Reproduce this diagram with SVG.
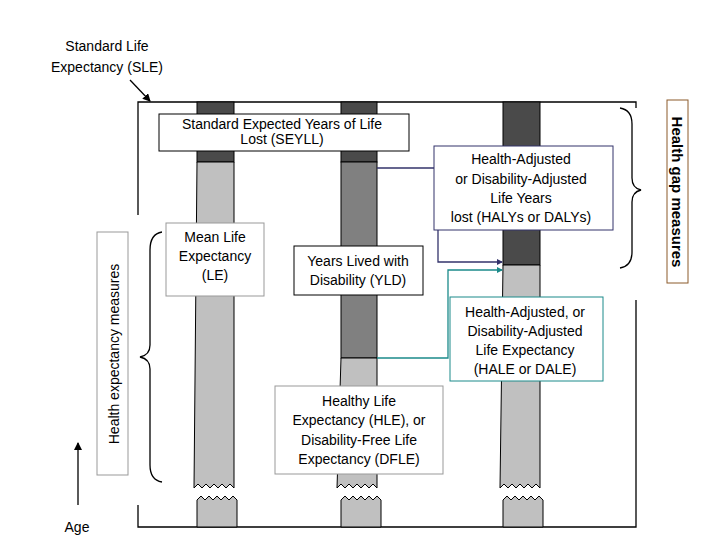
<svg xmlns="http://www.w3.org/2000/svg" width="720" height="540" viewBox="0 0 720 540">
<style>
text{font-family:"Liberation Sans",Arial,sans-serif;font-size:14px;fill:#000}
.c{text-anchor:middle}
.dk{fill:#4a4a4a;stroke:#000;stroke-width:1}
.lt{fill:#c0c0c0;stroke:#000;stroke-width:1}
.md{fill:#808080;stroke:#000;stroke-width:1}
.box{fill:#fff;stroke:#000;stroke-width:1}
.ln{fill:none;stroke:#000;stroke-width:1.3}
</style>
<defs>
<marker id="ah" markerWidth="8" markerHeight="8" refX="7" refY="4" orient="auto" markerUnits="userSpaceOnUse"><path d="M0,0L8,4L0,8z" fill="#000"/></marker>
<marker id="an" markerWidth="6" markerHeight="6" refX="5" refY="3" orient="auto" markerUnits="userSpaceOnUse"><path d="M0,0L6,3L0,6z" fill="#33336b"/></marker>
<marker id="at" markerWidth="6" markerHeight="6" refX="5" refY="3" orient="auto" markerUnits="userSpaceOnUse"><path d="M0,0L6,3L0,6z" fill="#1b8a8a"/></marker>
</defs>
<g id="frame">
<path class="ln" d="M138,215V102H636V108M636,300V527H138V505"/>
</g>
<g id="bar1">
<rect class="dk" x="197" y="102" width="37" height="60"/>
<path class="lt" d="M197,162H234V488l-4,-4-4,4-4,-4-4,4-4,-4-4,4-4,-4-4,4-4,-4-4,4z"/>
<path class="lt" d="M197,527V500l4,-4 4,4 4,-4 4,4 4,-4 4,4 4,-4 4,4 4,-4 4,4V527z"/>
</g>
<g id="bar2">
<rect class="dk" x="341" y="102" width="36" height="60"/>
<rect class="md" x="341" y="162" width="36" height="196"/>
<path class="lt" d="M341,358H377V488l-4,-4-4,4-4,-4-4,4-4,-4-4,4-4,-4-4,4-4,-4-4,4z"/>
<path class="lt" d="M341,527V500l4,-4 4,4 4,-4 4,4 4,-4 4,4 4,-4 4,4 4,-4 4,4V527z"/>
</g>
<g id="bar3">
<rect class="dk" x="503" y="102" width="37" height="163"/>
<path class="lt" d="M503,265H540V488l-4,-4-4,4-4,-4-4,4-4,-4-4,4-4,-4-4,4-4,-4-4,4z"/>
<path class="lt" d="M503,527V500l4,-4 4,4 4,-4 4,4 4,-4 4,4 4,-4 4,4 4,-4 4,4V527z"/>
</g>
<g id="connectors">
<path class="ln" d="M130,80L150,101" marker-end="url(#ah)"/>
<path class="ln" d="M78,505V443" marker-end="url(#ah)"/>
<path d="M377,168H438V262H502" fill="none" stroke="#33336b" stroke-width="1.3" marker-end="url(#an)"/>
<path d="M377,358H448V270H502" fill="none" stroke="#1b8a8a" stroke-width="1.3" marker-end="url(#at)"/>
<path class="ln" stroke-width="1" d="M162,232Q150,234 150,250V345Q150,355 140,357Q150,359 150,369V465Q150,480 162,482"/>
<path class="ln" stroke-width="1" d="M620,108Q632,110 632,124V178Q632,188 641,190Q632,192 632,202V252Q632,266 620,268"/>
</g>
<g id="sle"><text x="107" y="51" class="c">Standard Life</text><text x="107" y="72" class="c">Expectancy (SLE)</text></g>
<g id="seyll"><rect class="box" x="159" y="114" width="250" height="37"/><text x="282" y="129" class="c">Standard Expected Years of Life</text><text x="282" y="144" class="c">Lost (SEYLL)</text></g>
<g id="haly"><rect x="434" y="146" width="179" height="84" fill="#fff" stroke="#33336b"/>
<text x="521" y="164" class="c">Health-Adjusted</text><text x="521" y="184" class="c">or Disability-Adjusted</text><text x="521" y="203" class="c">Life Years</text><text x="521" y="222" class="c">lost (HALYs or DALYs)</text></g>
<g id="le"><rect x="166" y="223" width="98" height="73" fill="#fff" stroke="#999"/>
<text x="215" y="242" class="c">Mean Life</text><text x="215" y="261" class="c">Expectancy</text><text x="215" y="280" class="c">(LE)</text></g>
<g id="yld"><rect class="box" x="294" y="246" width="129" height="49"/>
<text x="358" y="266" class="c">Years Lived with</text><text x="358" y="285" class="c">Disability (YLD)</text></g>
<g id="hale"><rect x="450" y="297" width="153" height="84" fill="#fff" stroke="#1b8a8a"/>
<text x="525" y="317" class="c">Health-Adjusted, or</text><text x="525" y="336" class="c">Disability-Adjusted</text><text x="525" y="355" class="c">Life Expectancy</text><text x="525" y="374" class="c">(HALE or DALE)</text></g>
<g id="hle"><rect x="275" y="386" width="168" height="88" fill="#fff" stroke="#999"/>
<text x="359" y="406" class="c">Healthy Life</text><text x="359" y="425" class="c">Expectancy (HLE), or</text><text x="359" y="445" class="c">Disability-Free Life</text><text x="359" y="464" class="c">Expectancy (DFLE)</text></g>
<g id="hem"><rect x="97" y="232" width="31" height="243" fill="#fff" stroke="#999"/>
<text transform="translate(119,354) rotate(-90)" class="c">Health expectancy measures</text></g>
<g id="hgm"><rect x="667" y="100" width="21" height="183" fill="#fff" stroke="#8b5a2b"/>
<text transform="translate(672,192) rotate(90)" class="c" style="font-weight:bold;font-size:15px">Health gap measures</text></g>
<g id="age"><text x="77" y="532" class="c">Age</text></g>
</svg>
